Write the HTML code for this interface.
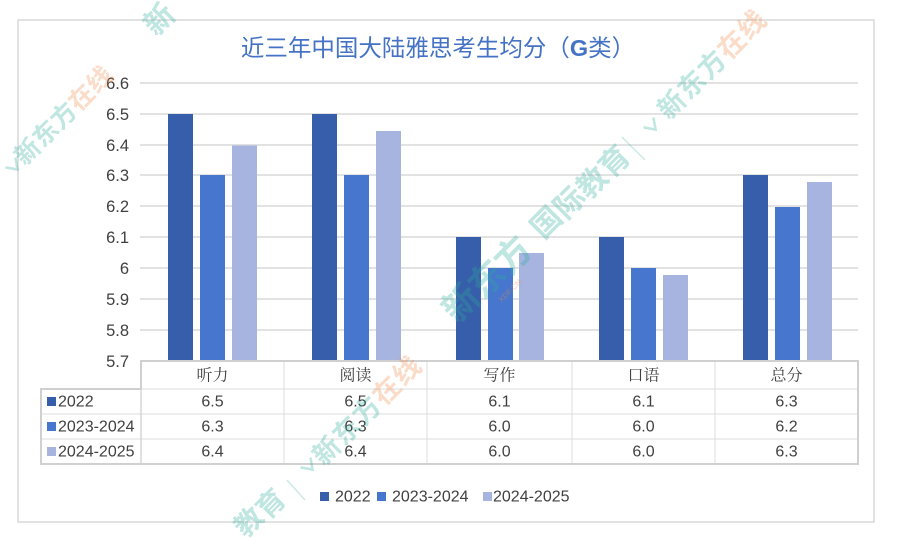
<!DOCTYPE html>
<html>
<head>
<meta charset="utf-8">
<style>
  html,body{margin:0;padding:0;background:#fff;}
  body{width:900px;height:539px;overflow:hidden;}
  svg{display:block;overflow:hidden;}
  .ax{font-family:"Liberation Sans","Noto Sans CJK SC",sans-serif;font-size:16.5px;fill:#404040;}
  .num{font-family:"Liberation Sans","Noto Sans CJK SC",sans-serif;font-size:16px;fill:#404040;}
  .hd{font-family:"Liberation Serif","Noto Serif CJK SC",serif;font-size:16px;fill:#404040;}
  .wm{font-family:"Liberation Sans","Noto Sans CJK SC",sans-serif;font-weight:bold;fill:#2bab9a;fill-opacity:0.3;}
  .wmo{font-family:"Liberation Sans","Noto Sans CJK SC",sans-serif;font-weight:bold;fill:#f08a4b;fill-opacity:0.3;}
</style>
</head>
<body>
<svg width="900" height="539" viewBox="0 0 900 539" xmlns="http://www.w3.org/2000/svg">
  <rect x="0" y="0" width="900" height="539" fill="#ffffff"/>
  <!-- chart border -->
  <rect x="18" y="20" width="856" height="502" fill="none" stroke="#d9d9d9" stroke-width="1.5"/>

  <!-- title -->
  <text x="438" y="48" text-anchor="middle" dominant-baseline="central" font-family="'Liberation Sans','Noto Sans CJK SC',sans-serif" font-size="23.5" fill="#4472c4">近三年中国大陆雅思考生均分（<tspan font-weight="bold">G</tspan>类）</text>

  <!-- gridlines -->
  <g stroke="#d9d9d9" stroke-width="1.4">
    <line x1="140" y1="83" x2="858" y2="83"/>
    <line x1="140" y1="114" x2="858" y2="114"/>
    <line x1="140" y1="145" x2="858" y2="145"/>
    <line x1="140" y1="175" x2="858" y2="175"/>
    <line x1="140" y1="206" x2="858" y2="206"/>
    <line x1="140" y1="237" x2="858" y2="237"/>
    <line x1="140" y1="268" x2="858" y2="268"/>
    <line x1="140" y1="299" x2="858" y2="299"/>
    <line x1="140" y1="330" x2="858" y2="330"/>
  </g>

  <!-- y labels -->
  <g class="ax" text-anchor="end" dominant-baseline="central">
    <text x="129" y="84">6.6</text>
    <text x="129" y="115">6.5</text>
    <text x="129" y="146">6.4</text>
    <text x="129" y="176">6.3</text>
    <text x="129" y="207">6.2</text>
    <text x="129" y="238">6.1</text>
    <text x="129" y="269">6</text>
    <text x="129" y="300">5.9</text>
    <text x="129" y="331">5.8</text>
    <text x="129" y="362">5.7</text>
  </g>

  <!-- bars -->
  <g>
    <rect x="168" y="114" width="25" height="247" fill="#375eaa"/>
    <rect x="200" y="175" width="25" height="186" fill="#4676cd"/>
    <rect x="232" y="145.5" width="25" height="215.5" fill="#a8b4e0"/>
    <rect x="312" y="114" width="25" height="247" fill="#375eaa"/>
    <rect x="344" y="175" width="25" height="186" fill="#4676cd"/>
    <rect x="376" y="131" width="25" height="230" fill="#a8b4e0"/>
    <rect x="456" y="237" width="25" height="124" fill="#375eaa"/>
    <rect x="488" y="268" width="25" height="93" fill="#4676cd"/>
    <rect x="519" y="253" width="25" height="108" fill="#a8b4e0"/>
    <rect x="599" y="237" width="25" height="124" fill="#375eaa"/>
    <rect x="631" y="268" width="25" height="93" fill="#4676cd"/>
    <rect x="663" y="275" width="25" height="86" fill="#a8b4e0"/>
    <rect x="743" y="175" width="25" height="186" fill="#375eaa"/>
    <rect x="775" y="207" width="25" height="154" fill="#4676cd"/>
    <rect x="807" y="182" width="25" height="179" fill="#a8b4e0"/>
  </g>

  <!-- data table -->
  <g stroke="#dcdcdc" stroke-width="1">
    <line x1="41" y1="414" x2="858" y2="414"/>
    <line x1="41" y1="439" x2="858" y2="439"/>
    <line x1="284" y1="361" x2="284" y2="464"/>
    <line x1="427" y1="361" x2="427" y2="464"/>
    <line x1="572" y1="361" x2="572" y2="464"/>
    <line x1="715" y1="361" x2="715" y2="464"/>
    <line x1="41" y1="389" x2="858" y2="389"/>
  </g>
  <g stroke="#d0d0d0" stroke-width="2" fill="none">
    <polyline points="141,389 141,361 858,361 858,464 41,464 41,389 141,389"/>
    <line x1="141" y1="361" x2="141" y2="464" stroke-width="1.3"/>
  </g>

  <!-- header labels -->
  <g class="hd" text-anchor="middle" dominant-baseline="central">
    <text x="212.5" y="376">听力</text>
    <text x="355.5" y="376">阅读</text>
    <text x="499.5" y="376">写作</text>
    <text x="643.5" y="376">口语</text>
    <text x="786.5" y="376">总分</text>
  </g>

  <!-- row keys -->
  <rect x="47" y="397" width="9" height="9" fill="#375eaa"/>
  <rect x="47" y="422" width="9" height="9" fill="#4676cd"/>
  <rect x="47" y="447" width="9" height="9" fill="#a8b4e0"/>
  <g class="num" dominant-baseline="central">
    <text x="58" y="402">2022</text>
    <text x="58" y="427">2023-2024</text>
    <text x="58" y="452">2024-2025</text>
  </g>

  <!-- table values -->
  <g class="num" text-anchor="middle" dominant-baseline="central">
    <text x="212.5" y="402">6.5</text>
    <text x="355.5" y="402">6.5</text>
    <text x="499.5" y="402">6.1</text>
    <text x="643.5" y="402">6.1</text>
    <text x="786.5" y="402">6.3</text>

    <text x="212.5" y="427">6.3</text>
    <text x="355.5" y="427">6.3</text>
    <text x="499.5" y="427">6.0</text>
    <text x="643.5" y="427">6.0</text>
    <text x="786.5" y="427">6.2</text>

    <text x="212.5" y="452">6.4</text>
    <text x="355.5" y="452">6.4</text>
    <text x="499.5" y="452">6.0</text>
    <text x="643.5" y="452">6.0</text>
    <text x="786.5" y="452">6.3</text>
  </g>

  <!-- legend -->
  <rect x="320" y="492" width="9" height="9" fill="#375eaa"/>
  <rect x="377" y="492" width="9" height="9" fill="#4676cd"/>
  <rect x="483" y="492" width="9" height="9" fill="#a8b4e0"/>
  <g class="num" dominant-baseline="central">
    <text x="335" y="497">2022</text>
    <text x="392" y="497">2023-2024</text>
    <text x="493" y="497">2024-2025</text>
  </g>

  <!-- watermarks -->
  <g text-anchor="middle" dominant-baseline="central">
    <g transform="translate(14,166) rotate(-45)"><path d="M-7,-5 L0,5 L7,-5" fill="none" stroke="#2bab9a" stroke-opacity="0.3" stroke-width="2.5"/></g>
    <text class="wm" font-size="25" transform="translate(28,152) rotate(-45)">新</text>
    <text class="wm" font-size="25" transform="translate(46,134) rotate(-45)">东</text>
    <text class="wm" font-size="25" transform="translate(64,116) rotate(-45)">方</text>
    <text class="wmo" font-size="25" transform="translate(82,98) rotate(-45)">在</text>
    <text class="wmo" font-size="25" transform="translate(100,80) rotate(-45)">线</text>
    <text class="wm" font-size="30" transform="translate(160,20) rotate(-45)">新</text>

    <text class="wm" font-size="28" transform="translate(249,522) rotate(-45)">教</text>
    <text class="wm" font-size="28" transform="translate(271,504) rotate(-45)">育</text>
    <line x1="287" y1="480" x2="305" y2="500" stroke="#2bab9a" stroke-opacity="0.25" stroke-width="1.5"/>
    <g transform="translate(309,466) rotate(-45)"><path d="M-7,-5 L0,5 L7,-5" fill="none" stroke="#2bab9a" stroke-opacity="0.3" stroke-width="2.5"/></g>
    <text class="wm" font-size="27" transform="translate(327,451) rotate(-45)">新</text>
    <text class="wm" font-size="27" transform="translate(347,431) rotate(-45)">东</text>
    <text class="wm" font-size="27" transform="translate(367,411) rotate(-45)">方</text>
    <text class="wmo" font-size="27" transform="translate(387,391) rotate(-45)">在</text>
    <text class="wmo" font-size="27" transform="translate(407,371) rotate(-45)">线</text>

    <text class="wm" font-size="36" transform="translate(461,303) rotate(-45)">新</text>
    <text class="wm" font-size="36" transform="translate(487,279) rotate(-45)">东</text>
    <text class="wm" font-size="36" transform="translate(513,255) rotate(-45)">方</text>
    <text class="wmo" font-size="8" transform="translate(510,291) rotate(-45)">XDF.CN</text>
    <text class="wm" font-size="30" transform="translate(547,223) rotate(-45)">国</text>
    <text class="wm" font-size="30" transform="translate(570,203) rotate(-45)">际</text>
    <text class="wm" font-size="30" transform="translate(593,183) rotate(-45)">教</text>
    <text class="wm" font-size="30" transform="translate(615,162) rotate(-45)">育</text>
    <line x1="622" y1="137" x2="645" y2="160" stroke="#2bab9a" stroke-opacity="0.25" stroke-width="1.5"/>
    <g transform="translate(652,126) rotate(-45)"><path d="M-7,-5 L0,5 L7,-5" fill="none" stroke="#2bab9a" stroke-opacity="0.3" stroke-width="2.5"/></g>
    <text class="wm" font-size="27" transform="translate(672,105) rotate(-45)">新</text>
    <text class="wm" font-size="27" transform="translate(692,85) rotate(-45)">东</text>
    <text class="wm" font-size="27" transform="translate(712,65) rotate(-45)">方</text>
    <text class="wmo" font-size="27" transform="translate(732,45) rotate(-45)">在</text>
    <text class="wmo" font-size="27" transform="translate(752,25) rotate(-45)">线</text>
  </g>
</svg>
</body>
</html>
